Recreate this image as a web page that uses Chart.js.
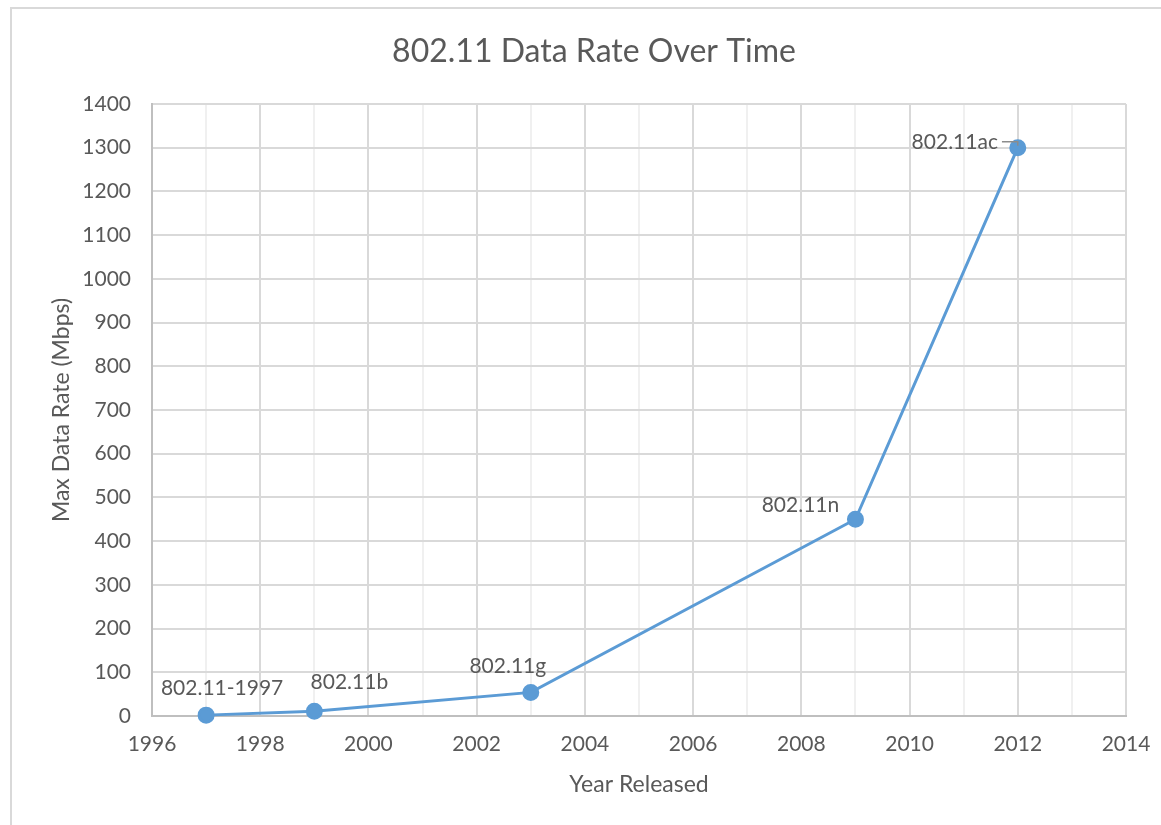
<!DOCTYPE html>
<html>
<head>
<meta charset="utf-8">
<title>802.11 Data Rate Over Time</title>
<script src="https://cdn.jsdelivr.net/npm/chart.js@4.4.1/dist/chart.umd.min.js"></script>
<style>
   html, body { margin: 0; padding: 0; background: #fff; overflow: hidden; }
   #frame {
      position: absolute; left: 10px; top: 7px; width: 1300px; height: 1000px;
      border-left: 2px solid #d9d9d9; border-top: 2px solid #d9d9d9;
   }
   #chart { position: absolute; left: 0; top: 0; }
</style>
</head>
<body>
<div id="frame"></div>
<canvas id="chart" width="1161" height="825"></canvas>
<script>
// data
const years = [1997, 1999, 2003, 2009, 2012];
const dataRates = [2, 11, 54, 450, 1300];
const standards = ["802.11-1997", "802.11b", "802.11g", "802.11n", "802.11ac"];

// label offsets from each point (pixels), like Excel's hand-moved labels
const labelOffsets = [
   [16, -27], [35, -29], [-23, -26], [-55, -14], [-63, -5]
];

const FONT = "Lato, 'Open Sans', sans-serif";
const TEXT = "#595959";

// the chart frame is wider than the window, so the title sits right of centre
const chartTitle = {
   id: "chartTitle",
   afterDraw(chart) {
      const ctx = chart.ctx;
      ctx.save();
      ctx.font = "32px " + FONT;
      ctx.fillStyle = TEXT;
      ctx.textAlign = "center";
      ctx.textBaseline = "middle";
      ctx.fillText("802.11 Data Rate Over Time", 594, 52);
      ctx.restore();
   }
};

const dataLabels = {
   id: "dataLabels",
   afterDatasetsDraw(chart) {
      const ctx = chart.ctx;
      const meta = chart.getDatasetMeta(0);
      ctx.save();
      ctx.font = "21px " + FONT;
      ctx.fillStyle = TEXT;
      ctx.textAlign = "center";
      ctx.textBaseline = "middle";
      meta.data.forEach((pt, i) => {
         const x = pt.x + labelOffsets[i][0];
         const y = pt.y + labelOffsets[i][1];
         ctx.fillText(standards[i], x, y);
         if (i === standards.length - 1) {
            // leader line for the moved label
            const w = ctx.measureText(standards[i]).width;
            ctx.strokeStyle = "#8c8c8c";
            ctx.lineWidth = 1.5;
            ctx.beginPath();
            ctx.moveTo(x + w / 2 + 4, y - 1);
            ctx.lineTo(pt.x, y - 1);
            ctx.lineTo(pt.x, pt.y - 2);
            ctx.stroke();
         }
      });
      ctx.restore();
   }
};

const ctx = document.getElementById("chart").getContext("2d");

new Chart(ctx, {
   type: "scatter",
   data: {
      datasets: [
         {
            label: "Max Data Rate",
            data: years.map((y, i) => ({ x: y, y: dataRates[i] })),
            showLine: true,
            borderColor: "#5b9bd5",
            backgroundColor: "#5b9bd5",
            borderWidth: 3,
            pointRadius: 7,
            pointHoverRadius: 7,
            clip: false,
         },
      ],
   },
   options: {
      responsive: false,
      animation: false,
      layout: { padding: { top: 104, left: 0, right: 35, bottom: 0 } },
      plugins: {
         legend: { display: false },
         tooltip: { enabled: false },
         title: { display: false },
      },
      scales: {
         x: {
            type: "linear",
            min: 1996,
            max: 2014,
            offset: false,
            afterFit(scale) {
               scale.height = 109;
               scale.paddingLeft = 0;
               scale.paddingRight = 0;
            },
            ticks: {
               stepSize: 1,
               autoSkip: false,
               maxRotation: 0,
               color: TEXT,
               padding: 16,
               font: { family: FONT, size: 21 },
               callback: (v) => (v % 2 === 0 ? String(v) : ""),
            },
            grid: {
               drawTicks: false,
               lineWidth: 2,
               color: (c) => (c.tick && c.tick.value % 2 !== 0 ? "#f0f0f0" : "#d9d9d9"),
            },
            border: { color: "#bfbfbf", width: 2 },
            title: {
               display: true,
               text: "Year Released",
               color: TEXT,
               font: { family: FONT, size: 23 },
               padding: 27,
            },
         },
         y: {
            min: 0,
            max: 1400,
            afterFit(scale) {
               scale.width = 152;
               scale.paddingTop = 0;
               scale.paddingBottom = 0;
            },
            ticks: {
               stepSize: 100,
               color: TEXT,
               padding: 21,
               font: { family: FONT, size: 21 },
               callback: (v) => String(v),
            },
            grid: { drawTicks: false, lineWidth: 2, color: "#d9d9d9" },
            border: { color: "#bfbfbf", width: 2 },
            title: {
               display: true,
               text: "Max Data Rate (Mbps)",
               color: TEXT,
               font: { family: FONT, size: 23 },
               padding: 48,
            },
         },
      },
   },
   plugins: [dataLabels, chartTitle],
});
</script>
</body>
</html>
